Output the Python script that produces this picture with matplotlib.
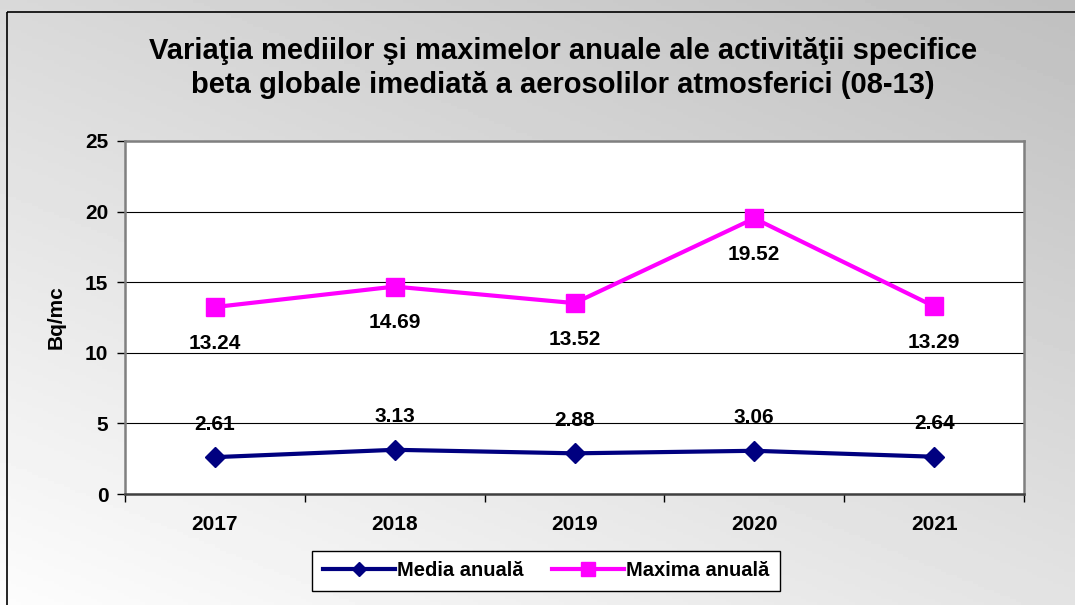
import numpy as np
import matplotlib.pyplot as plt
from matplotlib.patches import Rectangle

# data
years = ['2017', '2018', '2019', '2020', '2021']
media = [2.61, 3.13, 2.88, 3.06, 2.64]
maxima = [13.24, 14.69, 13.52, 19.52, 13.29]

W, H = 1075, 605
plt.rcParams['font.family'] = ['Liberation Sans', 'DejaVu Sans']
plt.rcParams['font.weight'] = 'bold'

fig = plt.figure(figsize=(W / 100, H / 100), dpi=100)

# grey gradient background
bg = fig.add_axes([0, 0, 1, 1], zorder=0)
gx, gy = np.meshgrid(np.linspace(0, 1, 200), np.linspace(0, 1, 200))
grad = 0.85 - 0.10 * gx + 0.14 * gy
bg.imshow(grad, cmap='gray', vmin=0, vmax=1, aspect='auto', extent=[0, 1, 1, 0])
bg.set_xlim(0, 1)
bg.set_ylim(1, 0)
bg.axis('off')
bg.add_patch(Rectangle((7 / W, 12 / H), 1.2, 1.2, fill=False, edgecolor='black', lw=1.2))

# plot area in pixels
left, right, top, bottom = 125, 1024, 141, 494
ax = fig.add_axes([left / W, 1 - bottom / H, (right - left) / W, (bottom - top) / H], zorder=1)
ax.set_facecolor('white')

x = np.arange(len(years))
ax.plot(x, media, color='#000080', lw=3, marker='D', ms=10, label='Media anuală', zorder=3)
ax.plot(x, maxima, color='#FF00FF', lw=3, marker='s', ms=13, label='Maxima anuală', zorder=3)

for xi, v in zip(x, media):
    ax.annotate(f'{v:.2f}', (xi, v), xytext=(0, 33), textcoords='offset pixels',
                ha='center', va='center', fontsize=15, fontweight='bold', zorder=4)
for xi, v in zip(x, maxima):
    ax.annotate(f'{v:.2f}', (xi, v), xytext=(0, -36), textcoords='offset pixels',
                ha='center', va='center', fontsize=15, fontweight='bold', zorder=4)

ax.set_xlim(-0.5, len(years) - 0.5)
ax.set_ylim(0, 25)
ax.set_yticks([0, 5, 10, 15, 20, 25])
ax.set_xticks(x)
ax.set_xticklabels(years)
ax.set_xticks(np.arange(-0.5, len(years)), minor=True)
ax.tick_params(axis='x', which='major', length=0, pad=15, labelsize=15)
ax.tick_params(axis='x', which='minor', length=6, width=1, direction='out')
ax.tick_params(axis='y', length=6, width=1, direction='out', pad=6, labelsize=15)
for lab in ax.get_xticklabels() + ax.get_yticklabels():
    lab.set_fontweight('bold')

ax.grid(axis='y', color='black', lw=0.8)
ax.set_axisbelow(True)
for s in ['left', 'top', 'right']:
    ax.spines[s].set_color('#808080')
    ax.spines[s].set_linewidth(1.8)
ax.spines['bottom'].set_color('#404040')
ax.spines['bottom'].set_linewidth(1.8)

ax.set_ylabel('Bq/mc', fontsize=15, fontweight='bold', labelpad=14)

fig.text(563 / W, 1 - 68 / H,
         'Variaţia mediilor şi maximelor anuale ale activităţii specifice\n'
         'beta globale imediată a aerosolilor atmosferici (08-13)',
         ha='center', va='center', fontsize=21, fontweight='bold', linespacing=1.3)

leg = fig.legend(loc='center', bbox_to_anchor=(546 / W, 1 - 571 / H), ncol=2,
                 frameon=True, fancybox=False, edgecolor='black', framealpha=1,
                 prop={'size': 14.5, 'weight': 'bold'}, handlelength=3.6,
                 handletextpad=0.1, columnspacing=1.4, borderpad=0.5,
                 markerscale=0.75)
leg.get_frame().set_linewidth(1)

fig.savefig('out.png', dpi=100)
